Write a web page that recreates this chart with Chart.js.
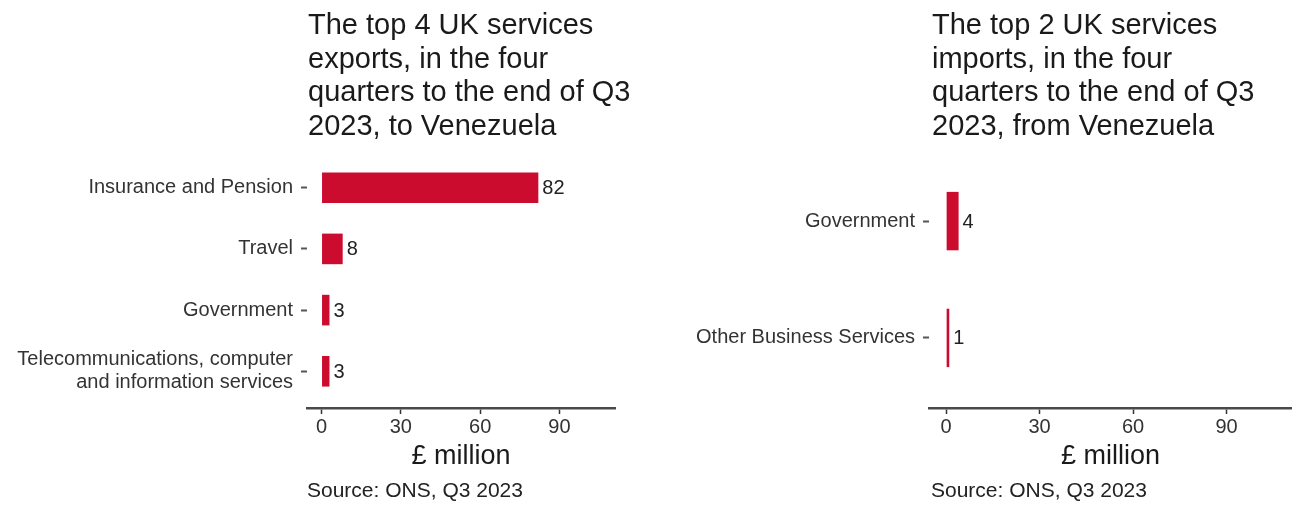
<!DOCTYPE html>
<html>
<head>
<meta charset="utf-8">
<script src="https://cdn.jsdelivr.net/npm/chart.js@4.4.1/dist/chart.umd.min.js"></script>
<style>
  html, body { margin: 0; padding: 0; background: #ffffff; }
  #wrap { position: relative; width: 1292px; height: 506px; overflow: hidden; font-family: "Liberation Sans", Arial, sans-serif; }
  .panel { position: absolute; top: 0; width: 646px; height: 506px; }
  .title { position: absolute; top: 8px; font-size: 29px; line-height: 33.5px; color: #1a1a1a; white-space: nowrap; }
  .source { position: absolute; top: 478px; font-size: 21px; line-height: 24px; color: #222; white-space: nowrap; }
  canvas { position: absolute; left: 0; top: 0; }
</style>
</head>
<body>
<div id="wrap">
  <div class="panel" style="left:0px;">
    <canvas id="c1" width="646" height="506"></canvas>
  </div>
  <div class="panel" style="left:646px;">
    <canvas id="c2" width="646" height="506"></canvas>
  </div>
  <div class="title" style="left:308px;">The top 4 UK services<br>exports, in the four<br>quarters to the end of Q3<br>2023, to Venezuela</div>
  <div class="title" style="left:932px;">The top 2 UK services<br>imports, in the four<br>quarters to the end of Q3<br>2023, from Venezuela</div>
  <div class="source" style="left:307px;">Source: ONS, Q3 2023</div>
  <div class="source" style="left:931px;">Source: ONS, Q3 2023</div>
</div>
<script>
// ---- Data ----
const exportCategories = [
  "Insurance and Pension",
  "Travel",
  "Government",
  ["Telecommunications, computer", "and information services"]
];
const exportValues = [82, 8, 3, 3];

const importCategories = [
  "Government",
  "Other Business Services"
];
const importValues = [4, 1];

const xTickValues = [0, 30, 60, 90];
const axisTitle = "£ million";

// ---- Styling ----
const BAR_COLOR = "#cc0c2f";
const FONT = "'Liberation Sans', Arial, sans-serif";

const valueLabels = {
  id: "valueLabels",
  afterDatasetsDraw(chart) {
    const ctx = chart.ctx;
    ctx.save();
    ctx.font = "20px " + FONT;
    ctx.fillStyle = "#222";
    ctx.textAlign = "left";
    ctx.textBaseline = "middle";
    chart.data.datasets.forEach((ds, di) => {
      const meta = chart.getDatasetMeta(di);
      meta.data.forEach((bar, i) => {
        ctx.fillText(String(ds.data[i]), bar.x + 4, bar.y + 1);
      });
    });
    ctx.restore();
  }
};

function makeChart(id, cats, vals, yWidth, padRight) {
  const n = cats.length;
  return new Chart(document.getElementById(id), {
    type: "bar",
    data: {
      labels: cats.map((c, i) => i),
      datasets: [{
        data: vals,
        backgroundColor: BAR_COLOR,
        borderWidth: 0,
        categoryPercentage: 1,
        barPercentage: 0.5
      }]
    },
    options: {
      indexAxis: "y",
      responsive: false,
      animation: false,
      layout: { padding: { top: 151, right: padRight, left: 0, bottom: 0 } },
      plugins: { legend: { display: false }, tooltip: { enabled: false } },
      scales: {
        x: {
          type: "linear",
          min: -5.5,
          max: 111,
          afterBuildTicks: (s) => { s.ticks = xTickValues.map(v => ({ value: v })); },
          afterFit: (s) => { s.height = 98; },
          grid: { drawOnChartArea: false, drawTicks: true, tickLength: 6, tickColor: "#333", tickWidth: 1.5 },
          border: { display: true, color: "#4a4a4a", width: 2.5 },
          ticks: { font: { size: 20, family: FONT }, color: "#333", padding: 1, maxRotation: 0 },
          title: {
            display: true,
            text: axisTitle,
            font: { size: 27, family: FONT },
            color: "#1a1a1a",
            padding: { top: 33, bottom: 33 }
          }
        },
        y: {
          type: "linear",
          offset: false,
          min: -0.6,
          max: n - 0.4,
          reverse: true,
          afterBuildTicks: (s) => { s.ticks = cats.map((c, i) => ({ value: i })); },
          afterFit: (s) => { s.width = yWidth; },
          grid: { offset: false, drawOnChartArea: false, drawTicks: true, tickLength: 6, tickColor: "#555", tickWidth: 2 },
          border: { display: false },
          ticks: {
            font: { size: 20, family: FONT, lineHeight: 1.15 },
            color: "#333",
            padding: 8,
            callback: (v) => cats[v]
          }
        }
      }
    },
    plugins: [valueLabels]
  });
}

makeChart("c1", exportCategories, exportValues, 307, 31);
makeChart("c2", importCategories, importValues, 283, 0);
</script>
</body>
</html>
